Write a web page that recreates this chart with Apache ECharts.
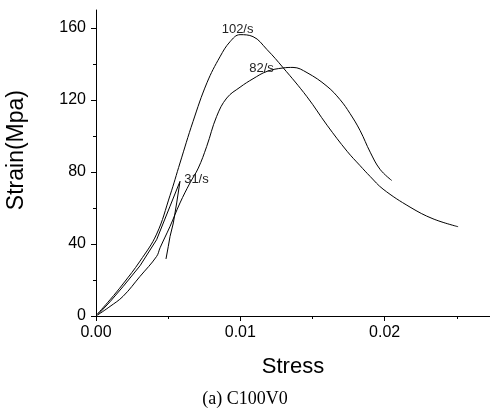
<!DOCTYPE html>
<html>
<head>
<meta charset="utf-8">
<script src="https://cdn.jsdelivr.net/npm/echarts@6/dist/echarts.min.js"></script>
<style>html,body{margin:0;padding:0;background:#fff}#c{width:490px;height:410px}</style>
</head>
<body>
<div id="c"></div>
<script>
// Curve 102/s
var stress102 = [0.00005, 0.00097, 0.00187, 0.00305, 0.0042, 0.00513, 0.00582, 0.00672, 0.00769, 0.00859, 0.00929, 0.00998, 0.01088, 0.01185, 0.01296, 0.01462, 0.01601, 0.0174, 0.0183, 0.019, 0.01989, 0.02176, 0.02335, 0.02509];
var strain102 = [0.7, 9, 17.8, 30.5, 45.5, 67, 85, 108, 129.6, 144, 152.4, 156.3, 155.2, 148, 138, 121.8, 106, 91.5, 83.5, 77.5, 70.5, 60.5, 54, 49.6];
// Curve 82/s
var stress82 = [0.00014, 0.00097, 0.00187, 0.00305, 0.0042, 0.00444, 0.00513, 0.00582, 0.00651, 0.00709, 0.00767, 0.00836, 0.00906, 0.00998, 0.01088, 0.01185, 0.01296, 0.01365, 0.01462, 0.01601, 0.01691, 0.0176, 0.0183, 0.019, 0.01968, 0.02049];
var strain82 = [0.7, 5.3, 10.9, 22, 33.1, 37.9, 49.8, 62.8, 73.9, 82.2, 94.2, 110.9, 121.1, 127.1, 131.8, 135.9, 137.8, 138.1, 135.2, 127.6, 120.2, 112.5, 103, 91, 81.5, 75.3];
// Curve 31/s
var stress31 = [0.00007, 0.00097, 0.00187, 0.00305, 0.0042, 0.00513, 0.00582, 0.00559, 0.00536, 0.00513, 0.00501, 0.00485];
var strain31 = [0.2, 7.9, 16.3, 27.9, 42.4, 61, 74.8, 62.8, 51.7, 44.2, 38.7, 31.7];

var seriesNames = ['102/s', '82/s', '31/s'];
var labelStress = [0.00981, 0.01147, 0.00696];
var labelStrain = [159.1, 137.4, 75.7];

var xMajorTicks = [0, 0.01, 0.02];
var xMinorTicks = [0.005, 0.015, 0.025];
var yMajorTicks = [0, 40, 80, 120, 160];
var yMinorTicks = [20, 60, 100, 140];

function pairs(xs, ys) { return xs.map(function (x, i) { return [x, ys[i]]; }); }

var chart = echarts.init(document.getElementById('c'), null, {renderer: 'canvas'});
var lineStyle = {color: '#000', width: 1};
function mk(i, xs, ys, smooth) {
  return {
    type: 'line', name: seriesNames[i], data: pairs(xs, ys), showSymbol: false, symbol: 'none',
    smooth: smooth, lineStyle: lineStyle, itemStyle: {color: '#000'}, animation: false,
    xAxisIndex: 0, yAxisIndex: 0,
    markPoint: {
      symbol: 'circle', symbolSize: 1, itemStyle: {color: 'rgba(0,0,0,0)'}, animation: false,
      label: {show: true, position: 'inside', color: '#222', fontFamily: 'Liberation Sans, Arial', fontSize: 13, formatter: seriesNames[i]},
      data: [{coord: [labelStress[i], labelStrain[i]]}]
    }
  };
}
var axisLineStyle = {show: true, lineStyle: {color: '#000', width: 1}};
var option = {
  backgroundColor: '#fff',
  animation: false,
  grid: {left: 96, right: 0, top: 10, bottom: 94, containLabel: false},
  xAxis: [{
    type: 'value', min: 0, max: 0.0273, position: 'bottom',
    axisLine: axisLineStyle, splitLine: {show: false},
    axisTick: {show: true, inside: false, length: 5, customValues: xMajorTicks, lineStyle: {color: '#000'}},
    axisLabel: {customValues: xMajorTicks, margin: 9, color: '#000', fontSize: 16, fontFamily: 'Liberation Sans, Arial', formatter: function (v) { return v.toFixed(2); }},
    name: 'Stress', nameLocation: 'middle', nameGap: 40,
    nameTextStyle: {color: '#000', fontSize: 22, fontFamily: 'Liberation Sans, Arial'}
  }, {
    type: 'value', min: 0, max: 0.0273, position: 'bottom',
    axisLine: {show: false}, splitLine: {show: false}, axisLabel: {show: false},
    axisTick: {show: true, length: 3, customValues: xMinorTicks, lineStyle: {color: '#000'}}
  }],
  yAxis: [{
    type: 'value', min: 0, max: 170, position: 'left',
    axisLine: axisLineStyle, splitLine: {show: false},
    axisTick: {show: true, inside: false, length: 5, customValues: yMajorTicks, lineStyle: {color: '#000'}},
    axisLabel: {customValues: yMajorTicks, margin: 10, color: '#000', fontSize: 16, fontFamily: 'Liberation Sans, Arial'}
  }, {
    type: 'value', min: 0, max: 170, position: 'left',
    axisLine: {show: false}, splitLine: {show: false}, axisLabel: {show: false},
    axisTick: {show: true, length: 3, customValues: yMinorTicks, lineStyle: {color: '#000'}}
  }],
  graphic: [
    {type: 'text', left: 5, top: 90, rotation: Math.PI / 2, style: {text: 'Strain(Mpa)', fill: '#000', font: '23px "Liberation Sans", Arial'}},
    {type: 'text', style: {text: '(a) C100V0', fill: '#000', font: '18px "Liberation Serif", "Times New Roman", serif', x: 245, y: 399, textAlign: 'center', textVerticalAlign: 'middle'}}
  ],
  series: [
    mk(0, stress102, strain102, 0.4),
    mk(1, stress82, strain82, 0.4),
    mk(2, stress31, strain31, false)
  ]
};
chart.setOption(option);
</script>
</body>
</html>
